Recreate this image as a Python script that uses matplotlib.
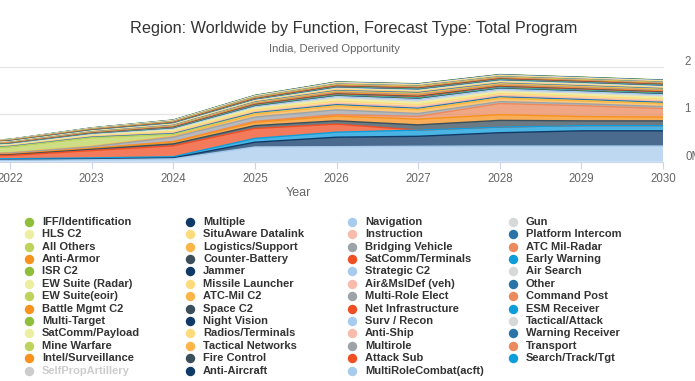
"""
Stacked area chart: Region Worldwide by Function, India derived opportunity.
"""

import numpy as np
import matplotlib.pyplot as plt

plt.rcParams['font.family'] = ['Liberation Sans', 'DejaVu Sans']

years = [2021, 2022, 2023, 2024, 2025, 2026, 2027, 2028, 2029, 2030]

# values in $M, one list per function (legend order, row by row)
iff_identification = [2, 2, 3, 4, 5, 6, 6, 6, 6, 6]
multiple = [2, 2, 3, 4, 5, 6, 6, 6, 6, 6]
navigation = [2, 3, 4, 5, 6, 8, 8, 8, 8, 8]
gun = [2, 2, 3, 4, 5, 6, 6, 6, 6, 6]
hls_c2 = [2, 2, 3, 4, 5, 6, 6, 6, 6, 6]
situaware_datalink = [2, 3, 4, 5, 6, 8, 8, 8, 8, 8]
instruction = [2, 3, 4, 5, 6, 8, 8, 8, 8, 8]
platform_intercom = [2, 2, 3, 4, 5, 6, 6, 6, 6, 6]
all_others = [3, 4, 5, 6, 8, 10, 10, 10, 10, 10]
logistics_support = [2, 3, 4, 5, 6, 8, 8, 8, 8, 8]
bridging_vehicle = [2, 2, 3, 4, 5, 6, 6, 6, 6, 6]
atc_mil_radar = [2, 3, 3, 4, 5, 6, 6, 6, 6, 6]
anti_armor = [3, 4, 5, 6, 8, 10, 10, 10, 10, 10]
counter_battery = [2, 3, 4, 5, 6, 8, 8, 8, 8, 8]
satcomm_terminals = [3, 3, 4, 6, 8, 10, 10, 10, 10, 10]
early_warning = [2, 3, 4, 5, 6, 8, 10, 10, 10, 10]
isr_c2 = [2, 2, 3, 4, 5, 6, 6, 6, 6, 6]
jammer = [2, 3, 4, 5, 6, 8, 8, 8, 8, 8]
strategic_c2 = [2, 3, 4, 6, 8, 10, 10, 10, 10, 10]
air_search = [2, 3, 3, 5, 6, 8, 8, 8, 8, 8]
ew_suite_radar = [2, 3, 4, 5, 6, 8, 8, 8, 8, 8]
missile_launcher = [3, 4, 5, 8, 10, 15, 15, 12, 12, 12]
air_msl_def = [2, 3, 4, 6, 8, 10, 10, 10, 10, 10]
other = [4, 5, 6, 8, 10, 12, 15, 12, 12, 12]
ew_suite_eoir = [2, 3, 4, 5, 6, 8, 8, 8, 8, 8]
atc_mil_c2 = [3, 4, 5, 8, 10, 15, 18, 15, 15, 15]
multi_role_elect = [2, 3, 4, 6, 8, 10, 12, 10, 10, 10]
command_post = [3, 4, 5, 6, 8, 12, 15, 12, 12, 12]
battle_mgmt_c2 = [3, 4, 5, 8, 10, 12, 12, 12, 12, 12]
space_c2 = [4, 5, 6, 8, 10, 12, 15, 12, 12, 12]
net_infrastructure = [3, 4, 5, 8, 10, 12, 15, 12, 12, 12]
esm_receiver = [3, 3, 4, 6, 8, 10, 12, 12, 12, 12]
multi_target = [3, 4, 5, 6, 8, 10, 10, 10, 10, 10]
night_vision = [3, 4, 5, 8, 10, 12, 12, 12, 12, 12]
surv_recon = [5, 6, 10, 15, 20, 30, 35, 30, 30, 30]
tactical_attack = [5, 6, 8, 12, 15, 25, 30, 25, 25, 25]
satcomm_payload = [10, 12, 15, 25, 30, 40, 40, 35, 35, 35]
radios_terminals = [10, 12, 15, 30, 40, 45, 45, 40, 40, 40]
anti_ship = [5, 6, 8, 15, 20, 30, 35, 30, 30, 30]
warning_receiver = [8, 10, 12, 15, 20, 25, 25, 25, 25, 25]
mine_warfare = [90, 120, 180, 40, 10, 5, 5, 5, 5, 5]
tactical_networks = [8, 10, 10, 20, 60, 80, 80, 70, 60, 60]
multirole = [15, 20, 30, 90, 90, 100, 60, 40, 40, 40]
transport = [4, 5, 5, 10, 20, 30, 60, 235, 230, 180]
intel_surveillance = [8, 10, 20, 40, 70, 100, 120, 120, 90, 80]
fire_control = [12, 15, 25, 40, 60, 70, 110, 140, 100, 100]
attack_sub = [50, 70, 155, 230, 210, 170, 0, 0, 0, 0]
search_track_tgt = [15, 20, 25, 25, 80, 105, 130, 120, 110, 110]
self_prop_artillery = None  # hidden in the legend
anti_aircraft = [10, 12, 15, 20, 100, 200, 210, 280, 320, 320]
multirolecombat_acft = [25, 30, 40, 60, 310, 316, 325, 330, 330, 330]

names = ['IFF/Identification', 'Multiple', 'Navigation', 'Gun',
         'HLS C2', 'SituAware Datalink', 'Instruction', 'Platform Intercom',
         'All Others', 'Logistics/Support', 'Bridging Vehicle', 'ATC Mil-Radar',
         'Anti-Armor', 'Counter-Battery', 'SatComm/Terminals', 'Early Warning',
         'ISR C2', 'Jammer', 'Strategic C2', 'Air Search',
         'EW Suite (Radar)', 'Missile Launcher', 'Air&MslDef (veh)', 'Other',
         'EW Suite(eoir)', 'ATC-Mil C2', 'Multi-Role Elect', 'Command Post',
         'Battle Mgmt C2', 'Space C2', 'Net Infrastructure', 'ESM Receiver',
         'Multi-Target', 'Night Vision', 'Surv / Recon', 'Tactical/Attack',
         'SatComm/Payload', 'Radios/Terminals', 'Anti-Ship', 'Warning Receiver',
         'Mine Warfare', 'Tactical Networks', 'Multirole', 'Transport',
         'Intel/Surveillance', 'Fire Control', 'Attack Sub', 'Search/Track/Tgt',
         'SelfPropArtillery', 'Anti-Aircraft', 'MultiRoleCombat(acft)']

series = [iff_identification, multiple, navigation, gun,
          hls_c2, situaware_datalink, instruction, platform_intercom,
          all_others, logistics_support, bridging_vehicle, atc_mil_radar,
          anti_armor, counter_battery, satcomm_terminals, early_warning,
          isr_c2, jammer, strategic_c2, air_search,
          ew_suite_radar, missile_launcher, air_msl_def, other,
          ew_suite_eoir, atc_mil_c2, multi_role_elect, command_post,
          battle_mgmt_c2, space_c2, net_infrastructure, esm_receiver,
          multi_target, night_vision, surv_recon, tactical_attack,
          satcomm_payload, radios_terminals, anti_ship, warning_receiver,
          mine_warfare, tactical_networks, multirole, transport,
          intel_surveillance, fire_control, attack_sub, search_track_tgt,
          self_prop_artillery, anti_aircraft, multirolecombat_acft]

palette = ['#8fbe3b', '#0f3a68', '#a7cbec', '#d7d9d9',
           '#edeea0', '#fddb7c', '#f7bcab', '#2b74a8',
           '#bdd35c', '#fdb54a', '#9ea3a8', '#eb8a5c',
           '#f7921e', '#3b4e59', '#f04e23', '#0d9ddb']

fig = plt.figure(figsize=(6.95, 3.81), dpi=100)
ax = fig.add_axes([0, (381 - 161.7) / 381, 663 / 695, 95 / 381])

# first series sits on top of the stack, so stack from the last one up
order = [i for i in range(len(names) - 1, -1, -1) if series[i] is not None]
stack = np.array([series[i] for i in order], dtype=float)
cols = [palette[i % 16] for i in order]

ax.stackplot(years, stack, colors=cols, alpha=0.75, linewidth=0, zorder=2)
tops = np.cumsum(stack, axis=0)
for k in range(len(order) - 1, -1, -1):
    ax.plot(years, tops[k], color=cols[k], lw=1, zorder=3)

ax.set_xlim(2021.877, 2030)
ax.set_ylim(0, 2000)
for v in [1000, 2000]:
    ax.axhline(v, color='#e6e6e6', lw=1, zorder=0, clip_on=False)

for s in ['top', 'left', 'right']:
    ax.spines[s].set_visible(False)
ax.spines['bottom'].set_color('#ccd6eb')
ax.spines['bottom'].set_zorder(4)
ax.set_xticks(years[1:])
ax.tick_params(axis='x', length=5, color='#ccd6eb', labelcolor='#666666',
               labelsize=8.3, pad=3)
ax.set_yticks([])

# right-hand axis labels, cut by the picture edge as in the original
for v, lab in [(0, '0M'), (1000, '1 000M'), (2000, '2 000M')]:
    ax.annotate(lab, xy=(1, v), xycoords=ax.get_yaxis_transform(),
                xytext=(22, 5), textcoords='offset pixels',
                ha='left', va='center', fontsize=8.3, color='#666666',
                annotation_clip=False)

fig.text(298 / 695, 1 - 192.5 / 381, 'Year', ha='center', va='center',
         fontsize=9, color='#666666')
fig.text(354 / 695, 1 - 28 / 381,
         'Region: Worldwide by Function, Forecast Type: Total Program',
         ha='center', va='center', fontsize=11.7, color='#333333')
fig.text(334 / 695, 1 - 49.5 / 381, 'India, Derived Opportunity',
         ha='center', va='center', fontsize=8.1, color='#666666')

# legend, laid out row by row in four columns
lax = fig.add_axes([0, 0, 1, 1])
lax.set_xlim(0, 695)
lax.set_ylim(381, 0)
lax.axis('off')
marker_x = [29, 190, 352, 513]
text_x = [42, 203, 365, 526]
for i, name in enumerate(names):
    row, col = divmod(i, 4)
    y = 221.7 + row * 12.42
    hidden = series[i] is None
    mc = '#cccccc' if hidden else palette[i % 16]
    tc = '#cccccc' if hidden else '#333333'
    lax.plot(marker_x[col], y, 'o', ms=6.8, color=mc, mec='none')
    lax.text(text_x[col], y, name, ha='left', va='center', fontsize=8,
             fontweight='bold', color=tc)

fig.savefig('out.png', dpi=100)
